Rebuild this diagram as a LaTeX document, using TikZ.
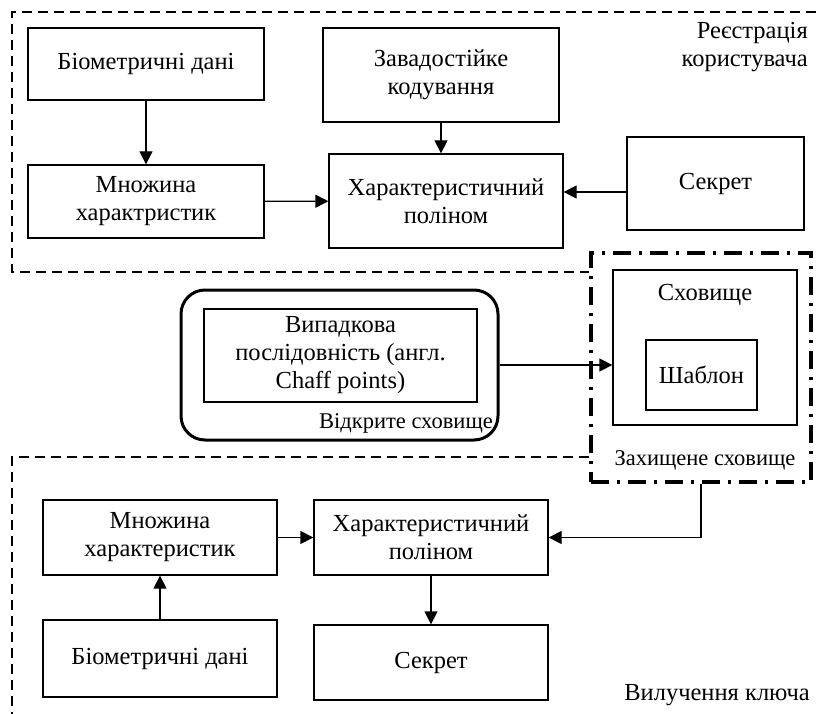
\documentclass[tikz,border=0pt]{standalone}
\usepackage{fontspec}
\setmainfont{Liberation Serif}
\usetikzlibrary{positioning,arrows.meta,calc}

\begin{document}
\begin{tikzpicture}[x=1pt,y=-1pt,
   font=\fontsize{24.5}{28}\selectfont,
   box/.style={draw,line width=1.3pt,align=center,inner sep=2pt},
   tag/.style={font=\fontsize{22.5}{26}\selectfont,inner sep=0pt},
   arr/.style={line width=1.3pt,-{Triangle[length=13pt,width=13pt]}},
   zone/.style={line width=1.3pt,dash pattern=on 10pt off 6pt}]
  \useasboundingbox (0,0) rectangle (816,714);
  % registration
  \node[box,minimum width=236,minimum height=72] (bio1) at (146,64) {Біометричні дані};
  \node[box,minimum width=236,minimum height=94] (ecc) at (441,75) {Завадостійке\\кодування};
  \node[box,minimum width=236,minimum height=73] (feat1) at (146,201.5) {Множина\\характристик};
  \node[box,minimum width=234,minimum height=94] (poly1) at (446,201) {Характеристичний\\поліном};
  \node[box,minimum width=177,minimum height=93] (secret1) at (715.5,183.5) {Секрет};
  \node[anchor=north east,align=right,inner sep=0pt] (reg) at (808,22) {Реєстрація\\користувача};
  \draw[arr] (bio1) -- (feat1);
  \draw[arr] (ecc.south) -- (ecc.south |- poly1.north);
  \draw[arr] (feat1) -- (poly1);
  \draw[arr] ([yshift=-8.5pt]secret1.west) -- ([yshift=-8.5pt]secret1.west -| poly1.east);
  % vaults
  \node[draw,line width=3pt,rounded corners=24pt,minimum width=317,minimum height=150] (open) at (339.5,365) {};
  \node[box,minimum width=273,minimum height=93] (chaff) at (340.5,355.5) {Випадкова\\послідовність (англ.\\Chaff points)};
  \node[tag,anchor=south east] (openlbl) at (493,433) {Відкрите сховище};
  \node[draw,line width=4pt,dash pattern=on 18pt off 8pt on 3pt off 8pt,minimum width=220,minimum height=229] (safe) at (701,367.5) {};
  \node[box,minimum width=184,minimum height=155] (store) at (705,347.5) {};
  \node[anchor=north,inner sep=0pt] (storelbl) at (705,284) {Сховище};
  \node[box,minimum width=111,minimum height=70] (templ) at (701.5,375) {Шаблон};
  \node[tag] (safelbl) at (705,460) {Захищене сховище};
  \draw[arr] (open.east) -- (open.east -| store.west);
  % key extraction
  \node[box,minimum width=234,minimum height=75] (feat2) at (160,537.5) {Множина\\характеристик};
  \node[box,minimum width=234,minimum height=75] (poly2) at (431,537.5) {Характеристичний\\поліном};
  \node[box,minimum width=234,minimum height=77] (bio2) at (160,658.5) {Біометричні дані};
  \node[box,minimum width=234,minimum height=75] (secret2) at (431,662.5) {Секрет};
  \node[anchor=south east,inner sep=0pt] (keylbl) at (810,706) {Вилучення ключа};
  \draw[arr] (bio2) -- (feat2);
  \draw[arr] (feat2) -- (poly2);
  \draw[arr] (poly2) -- (secret2);
  \draw[arr] (safe.south) |- (poly2.east);
  % zones
  \draw[zone] (816,12) -- (12,12) -- (12,272) -- (safe.west |- 0,272);
  \draw[zone] (safe.west |- 0,457) -- (12,457) -- (12,714);
\end{tikzpicture}
\end{document}
